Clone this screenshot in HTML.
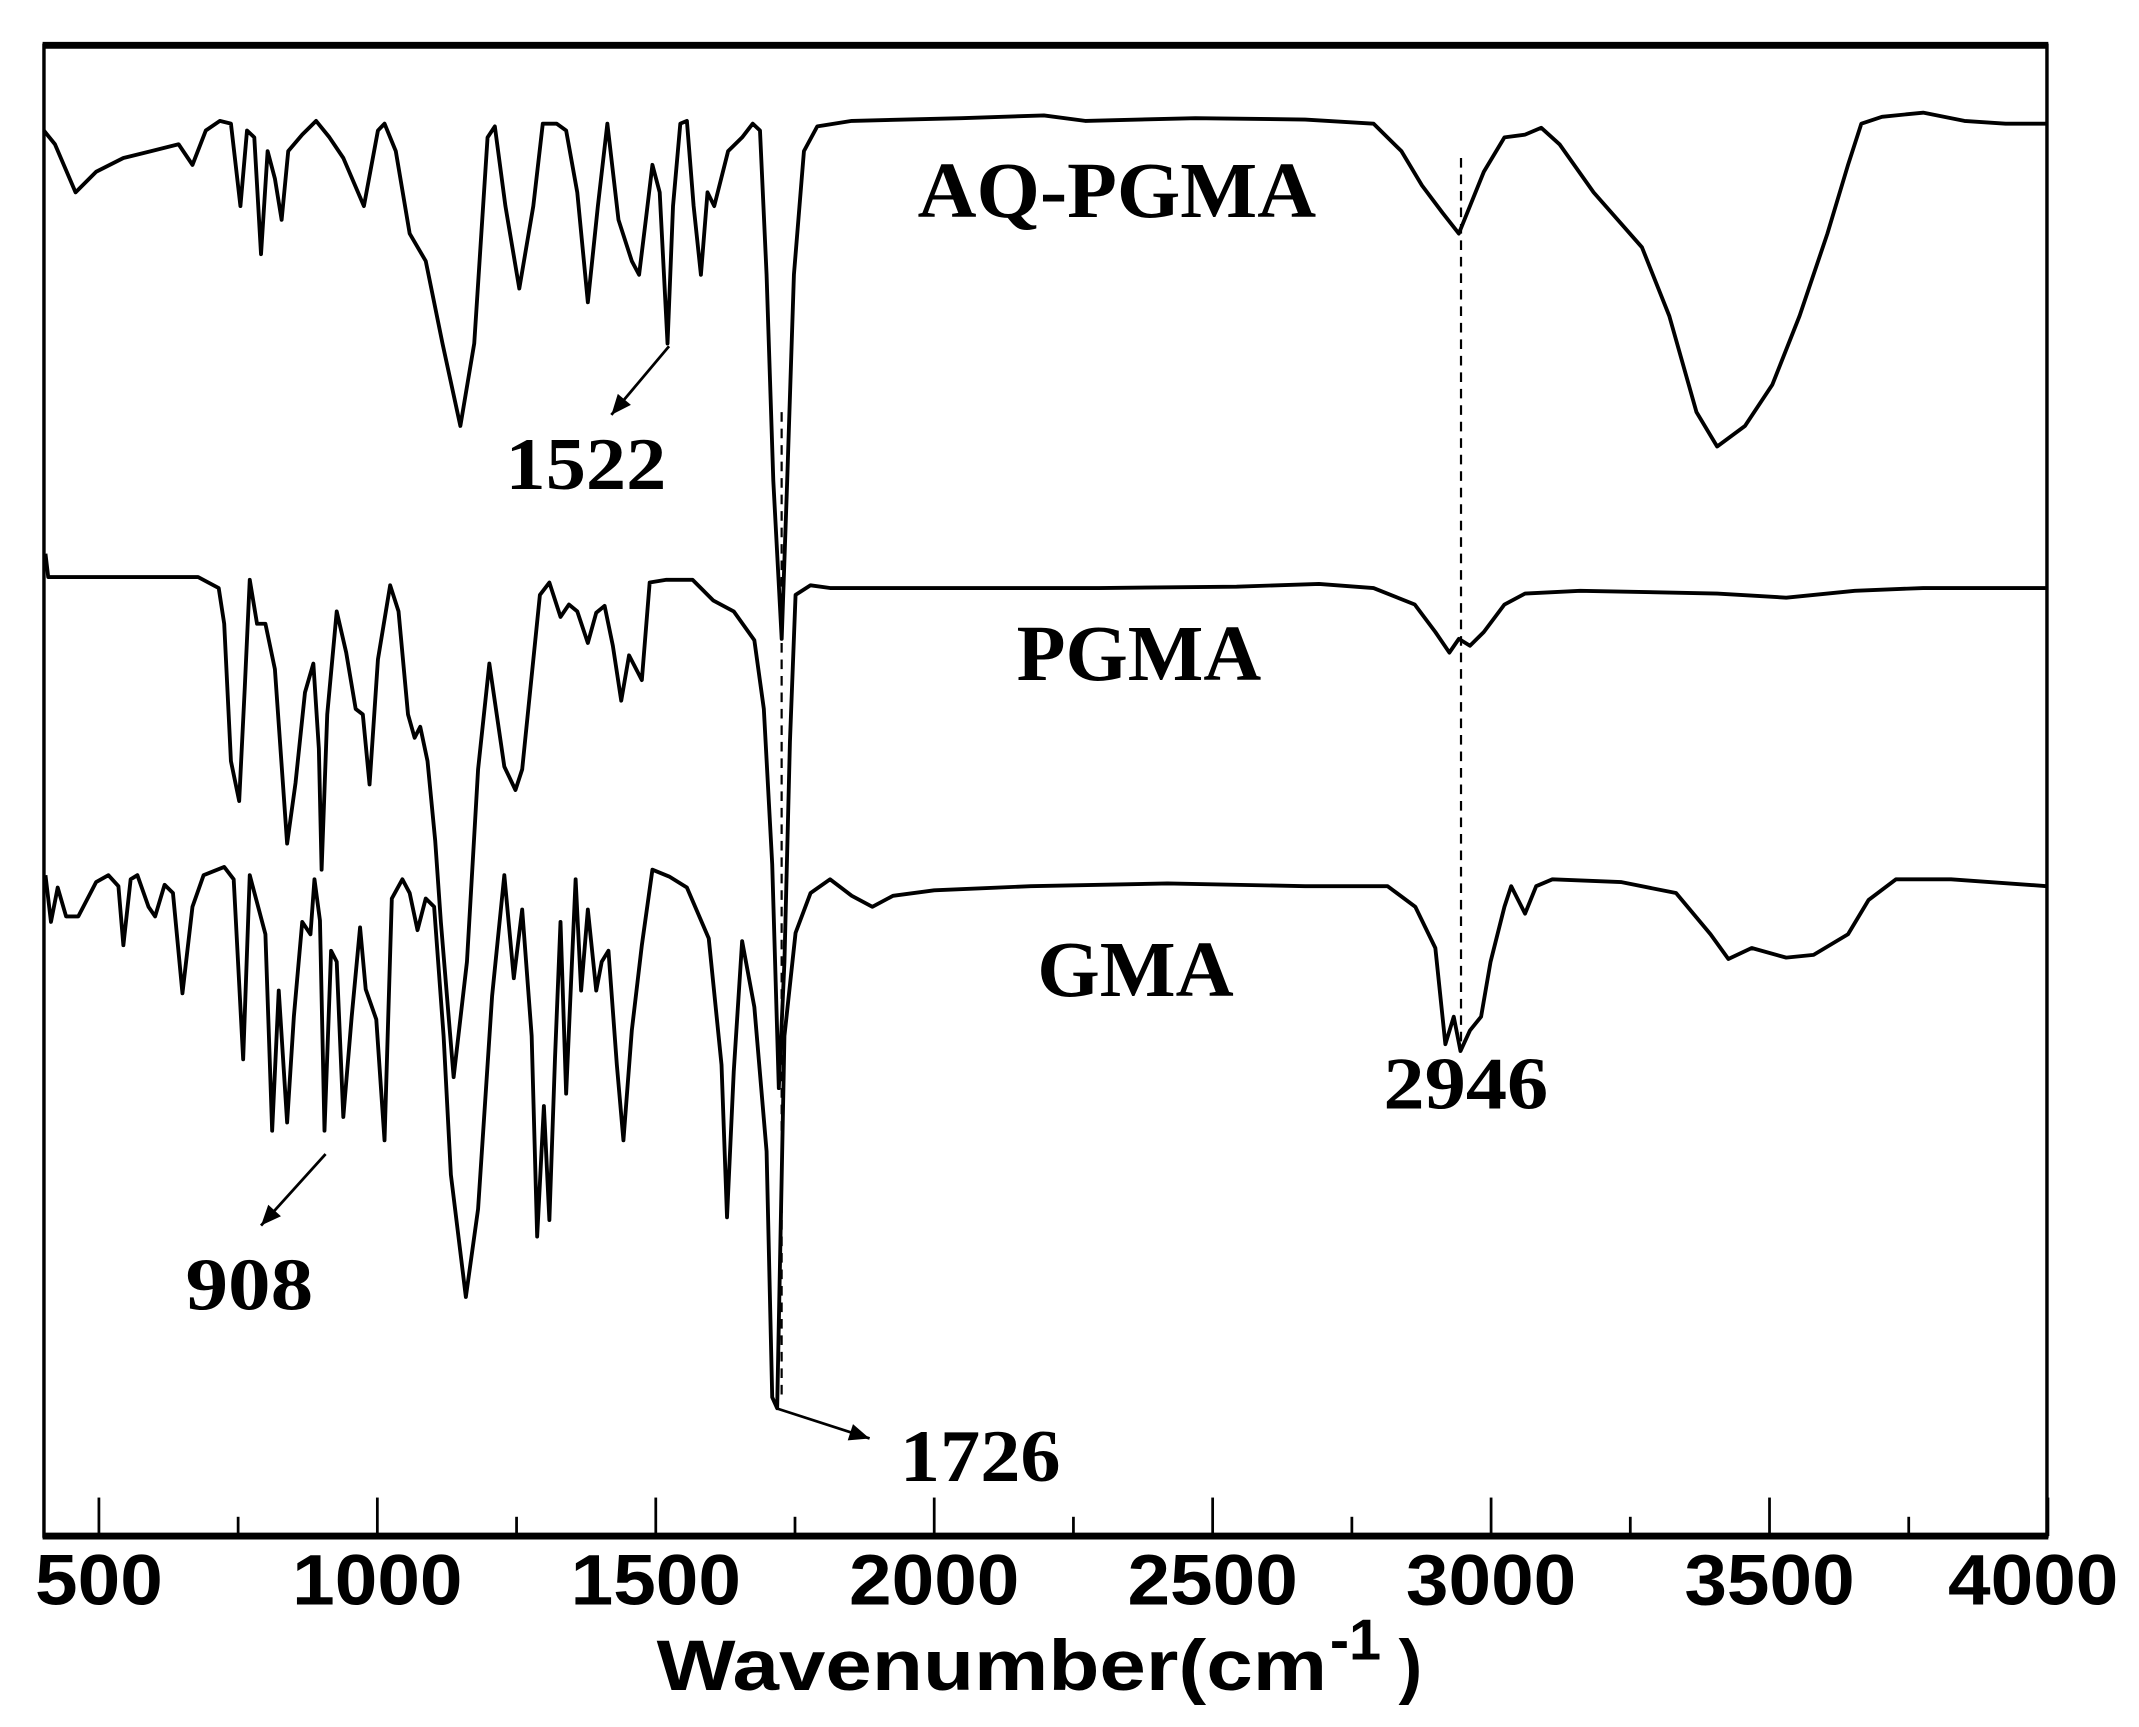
<!DOCTYPE html>
<html><head><meta charset="utf-8"><style>
html,body{margin:0;padding:0;background:#fff;}
svg{display:block;}
</style></head><body>
<svg id="chart" width="2139" height="1727" viewBox="0 0 1557 1257" preserveAspectRatio="none" xmlns="http://www.w3.org/2000/svg">
<rect x="0" y="0" width="1557" height="1257" fill="#fff"/>
<g id="plot"></g>
</svg>
<script>
const xTicks = [500,1000,1500,2000,2500,3000,3500,4000];
const xMinor = [750,1250,1750,2250,2750,3250,3750];
const aqW = [401,421,458,495,544,594,643,668,692,717,737,754,766,779,791,803,816,828,840,865,890,914,939,976,1001,1013,1033,1058,1087,1117,1149,1174,1198,1211,1230,1255,1280,1297,1322,1339,1359,1378,1396,1413,1433,1457,1470,1482,1494,1507,1521,1531,1544,1556,1568,1581,1593,1605,1630,1655,1674,1687,1699,1711,1726,1736,1748,1766,1790,1852,2049,2197,2271,2469,2666,2789,2839,2876,2913,2942,2962,2987,3024,3061,3090,3123,3184,3271,3320,3369,3406,3456,3505,3554,3604,3641,3665,3702,3776,3850,3924,3998];
const aqT = [1023,1013,978,993,1003,1008,1013,998,1023,1030,1028,968,1023,1018,933,1008,988,958,1008,1020,1030,1018,1003,968,1023,1028,1008,948,928,868,808,868,1018,1026,968,908,968,1028,1028,1023,978,898,968,1028,958,928,918,958,998,978,868,968,1028,1030,968,918,978,968,1008,1018,1028,1023,918,768,653,768,918,1008,1026,1030,1032,1034,1030,1032,1031,1028,1008,983,963,948,968,993,1018,1020,1025,1013,978,938,888,818,793,808,838,888,948,998,1028,1033,1036,1030,1028,1028];
const pgW = [404,409,678,715,725,737,752,762,771,784,799,816,838,853,870,885,895,900,910,927,944,961,974,986,1001,1023,1038,1055,1067,1077,1090,1104,1114,1137,1161,1181,1201,1228,1248,1260,1292,1309,1329,1344,1359,1378,1393,1408,1423,1438,1452,1475,1489,1519,1566,1603,1640,1677,1694,1709,1721,1731,1741,1751,1778,1813,2049,2296,2543,2691,2789,2863,2900,2925,2942,2962,2987,3024,3061,3160,3406,3530,3653,3776,3998];
const pgT = [715,698,698,690,664,564,535,618,696,664,664,631,504,548,614,635,573,485,598,673,643,602,598,547,638,692,673,598,581,589,564,506,447,334,418,558,635,560,543,558,685,694,669,678,673,650,672,677,648,608,641,623,694,696,696,681,673,652,602,489,326,418,578,685,692,690,690,690,691,693,690,678,658,643,653,648,658,678,686,688,686,683,688,690,690];
const gmW = [404,414,426,441,463,495,517,535,544,557,569,589,601,618,633,650,668,688,725,742,759,771,786,799,811,823,838,850,865,880,887,897,905,917,927,939,954,969,979,998,1013,1026,1045,1058,1072,1087,1102,1119,1132,1159,1181,1206,1228,1245,1260,1277,1287,1299,1309,1319,1329,1339,1356,1366,1378,1393,1403,1415,1430,1442,1457,1475,1494,1524,1556,1595,1618,1628,1640,1655,1677,1699,1709,1718,1731,1751,1778,1813,1852,1889,1926,2000,2173,2419,2666,2814,2864,2900,2918,2933,2945,2962,2982,2999,3024,3036,3061,3081,3110,3233,3332,3394,3426,3468,3530,3579,3641,3678,3727,3826,3998];
const gmT = [481,447,472,451,451,476,481,473,430,478,481,458,451,474,468,395,458,481,487,478,347,481,458,438,295,397,301,378,447,438,478,448,295,426,418,305,378,443,398,376,288,464,478,468,441,464,458,364,263,174,238,393,481,406,456,364,218,313,230,348,447,322,478,397,456,397,418,426,343,288,368,430,485,480,472,435,343,232,338,433,385,280,101,93,364,439,468,478,466,458,466,470,473,475,473,473,458,428,358,378,353,368,378,418,458,473,453,473,478,476,468,438,420,428,421,423,438,463,478,478,473];
const markers = [1726, 2946];
const markerTop = [818, 1003];
const markerBottom = [98, 358];

const NS='http://www.w3.org/2000/svg';
const g=document.getElementById('plot');
const X=w=>72+(w-500)*0.40535;
const Y=t=>1118-t;
function mk(tag,attrs,parent){const e=document.createElementNS(NS,tag);for(const k in attrs)e.setAttribute(k,attrs[k]);(parent||g).appendChild(e);return e;}

const frame=mk('rect',{x:32,y:33,width:1458,height:1085,fill:'none',stroke:'#000','stroke-width':2.5});


const topLine=mk('line',{x1:31,y1:33,x2:1491,y2:33,stroke:'#000','stroke-width':5});


const botLine=mk('line',{x1:31,y1:1118,x2:1491,y2:1118,stroke:'#000','stroke-width':5});



xTicks.forEach(v=>{
  const t=mk('line',{x1:X(v),y1:1118,x2:X(v),y2:1090,stroke:'#000','stroke-width':2});
  
  
  const s=String(v);
  const lab=mk('text',{x:Math.min(X(v),1480),y:1168,'text-anchor':'middle','font-family':'Liberation Sans, sans-serif','font-weight':'bold','font-size':52,textLength:s.length*31,lengthAdjust:'spacingAndGlyphs'});
  lab.textContent=s;
  
  
});
xMinor.forEach(v=>{
  const t=mk('line',{x1:X(v),y1:1118,x2:X(v),y2:1104,stroke:'#000','stroke-width':2});
  
  
});
const title=mk('text',{x:478,y:1230,'font-family':'Liberation Sans, sans-serif','font-weight':'bold','font-size':52,textLength:488,lengthAdjust:'spacingAndGlyphs'});
title.textContent='Wavenumber(cm';


const sup=mk('text',{x:968,y:1208,'font-family':'Liberation Sans, sans-serif','font-weight':'bold','font-size':42});
sup.textContent='-1';


const par=mk('text',{x:1018,y:1230,'font-family':'Liberation Sans, sans-serif','font-weight':'bold','font-size':52});
par.textContent=')';



markers.forEach((m,i)=>{
  const l=mk('line',{x1:X(m),y1:Y(markerTop[i]),x2:X(m),y2:Y(markerBottom[i]),stroke:'#000','stroke-width':1.6,'stroke-dasharray':'7,5'});
  
  
});

function series(W,T,name){
  const d=W.map((w,i)=>(i?'L':'M')+X(w).toFixed(1)+','+Y(T[i]).toFixed(1)).join(' ');
  const p=mk('path',{d:d,fill:'none',stroke:'#000','stroke-width':2.8,'stroke-linejoin':'round'});
  
  
}
series(aqW,aqT,'aq-pgma-spectrum');
series(pgW,pgT,'pgma-spectrum');
series(gmW,gmT,'gma-spectrum');

function label(txt,x,y,size,name,len){
  const a={x:x,y:y,'font-family':'Liberation Serif, serif','font-weight':'bold','font-size':size};
  if(len){a.textLength=len;a.lengthAdjust='spacingAndGlyphs';}
  const t=mk('text',a);t.textContent=txt;
  
  
}
label('AQ-PGMA',668,158,58,'label-aq-pgma',290);
label('PGMA',740,495,58,'label-pgma',178);
label('GMA',755,725,58,'label-gma',143);
label('1522',368,356,54,'annotation-1522',117);
label('908',135,953,54,'annotation-908',93);
label('1726',655,1078,54,'annotation-1726',117);
label('2946',1007,807,54,'annotation-2946',120);

function arrow(x1,y1,x2,y2,name){
  const l=mk('line',{x1:x1,y1:y1,x2:x2,y2:y2,stroke:'#000','stroke-width':2});
  
  
  const a=Math.atan2(y2-y1,x2-x1),s=16,w=0.4;
  const p=mk('polygon',{points:`${x2},${y2} ${x2-s*Math.cos(a-w)},${y2-s*Math.sin(a-w)} ${x2-s*Math.cos(a+w)},${y2-s*Math.sin(a+w)}`,fill:'#000'});
  
  
}
arrow(487,252,445,302,'arrow-1522');
arrow(237,840,190,892,'arrow-908');
arrow(565,1025,633,1047,'arrow-1726');
</script>
</body></html>
